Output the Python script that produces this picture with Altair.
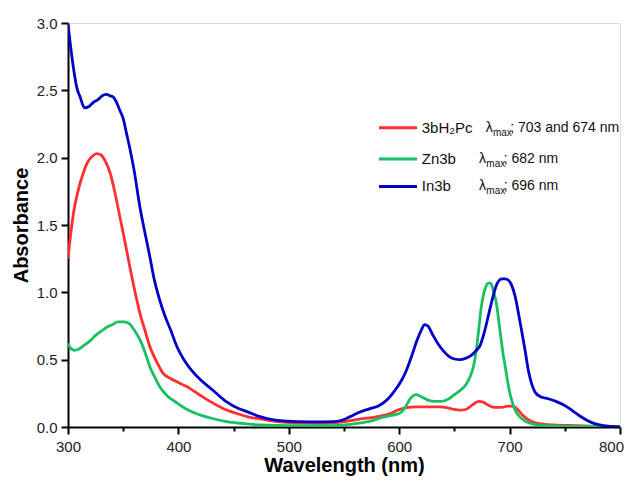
import altair as alt
import pandas as pd

series_names = ["3bH2Pc", "Zn3b", "In3b"]
series_colors = ["#FF3030", "#18C060", "#0000C8"]

red_nm = [300,302,305,309,314,318,322,326,330,334,338,342,347,351,356,360,365,370,374,380,386,393,400,407.5,418,428.6,440,452.8,463,474,490,510,530,545,555,565,575,583,592,600,608,615,625,637,645,650,655,660,664,668,672,676,680,684,688,693,698,702,705,708,711,715,720,727,740,760,780,800]
red_abs = [1.25,1.40,1.59,1.75,1.89,1.97,2.01,2.03,2.02,1.97,1.89,1.76,1.56,1.40,1.19,1.03,0.85,0.71,0.60,0.49,0.40,0.36,0.33,0.30,0.245,0.19,0.14,0.10,0.075,0.06,0.04,0.03,0.028,0.035,0.045,0.06,0.07,0.08,0.10,0.13,0.145,0.15,0.15,0.15,0.14,0.13,0.125,0.13,0.15,0.175,0.19,0.185,0.165,0.15,0.145,0.145,0.155,0.155,0.145,0.125,0.095,0.066,0.04,0.025,0.015,0.01,0.005,0.0]

green_nm = [300,303,306,310,315,320,325,330,335,340,345,350,355,360,365,370,374,378,383,390,398.5,408,419.6,430,443.7,460,474,500,540,565,575,583,592,600,605,610,615,620,626,632,638,645,650,655,660,664,667,670,672,674,676,678,680,682,684,686,688,690,692,694,696,698,700,703,706,709,714,718,725,735,760,800]
green_abs = [0.62,0.58,0.57,0.58,0.61,0.64,0.68,0.71,0.74,0.76,0.78,0.78,0.77,0.72,0.65,0.55,0.45,0.38,0.30,0.23,0.18,0.13,0.09,0.065,0.04,0.025,0.015,0.01,0.01,0.03,0.045,0.067,0.085,0.10,0.14,0.21,0.24,0.225,0.20,0.19,0.19,0.21,0.24,0.27,0.31,0.37,0.44,0.58,0.72,0.87,0.97,1.03,1.065,1.07,1.05,0.99,0.92,0.80,0.67,0.55,0.45,0.35,0.26,0.17,0.11,0.077,0.045,0.03,0.015,0.008,0.004,0.0]

blue_nm = [300,302,304,306,308,311,315,319,323,327,331,335,338,341,344,347,350,353,356,360,365,370,374,378,383,388,393,398.5,405,412,420,431,443,455,462,474,485,495,510,525,540,548,555,564,573,582,590,596,601,606,611,616,620,623,626,630,635,640,645,650,655,660,665,670,673,677,682,686,689,693,696,699,702,705,709,714,717,720,723,728,735,742,750,757,764,770,777,785,792,800]
blue_abs = [2.99,2.85,2.72,2.61,2.52,2.45,2.37,2.38,2.41,2.43,2.46,2.47,2.46,2.45,2.41,2.35,2.29,2.18,2.07,1.90,1.64,1.43,1.27,1.10,0.945,0.82,0.72,0.60,0.50,0.42,0.35,0.275,0.19,0.135,0.114,0.077,0.055,0.045,0.04,0.038,0.04,0.05,0.075,0.11,0.135,0.16,0.21,0.27,0.33,0.41,0.52,0.64,0.72,0.76,0.75,0.69,0.62,0.565,0.525,0.505,0.50,0.51,0.53,0.57,0.60,0.70,0.87,1.00,1.07,1.10,1.10,1.09,1.05,0.97,0.80,0.57,0.42,0.32,0.26,0.225,0.21,0.19,0.16,0.12,0.08,0.05,0.025,0.01,0.004,0.0]

legend_names = ["3bH₂Pc", "Zn3b", "In3b"]
legend_rest = ["; 703 and 674 nm", "; 682 nm", "; 696 nm"]

rows = []
for name, xs_, ys_ in [(series_names[0], red_nm, red_abs), (series_names[1], green_nm, green_abs), (series_names[2], blue_nm, blue_abs)]:
    for i, (xv, yv) in enumerate(zip(xs_, ys_)):
        rows.append({"series": name, "nm": xv, "abs": yv, "order": i})
df = pd.DataFrame(rows)

# legend layout (in data coordinates)
leg_y = [2.222, 1.99, 1.786]
leg = pd.DataFrame({
    "series": series_names,
    "label": legend_names,
    "rest": legend_rest,
    "y": leg_y,
    "x1": [581.7] * 3,
    "x2": [616.1] * 3,
    "xn": [620.4] * 3,
    "xl": [678.3, 672.3, 672.3],
    "xm": [684.9, 678.9, 678.9],
    "xr": [700.6, 694.6, 694.6],
})

color_scale = alt.Scale(domain=series_names, range=series_colors)
font = "Liberation Sans"

xaxis = alt.Axis(
    values=list(range(300, 801, 50)),
    labelExpr="datum.value % 100 === 0 ? datum.label : ''",
    format="d",
    title="Wavelength (nm)",
    titleFont=font, titleFontSize=20, titleFontWeight="bold", titleColor="#000",
    titlePadding=1,
    labelFont=font, labelFontSize=15, labelColor="#222", labelPadding=5,
    labelOverlap=False, labelFlush=False,
    labelOffset={"condition": {"test": "datum.value === 800", "value": -9}, "value": 0},
    tickSize={"condition": {"test": "datum.value % 100 === 0", "value": 7}, "value": 4},
    tickColor="#000", tickWidth=2, domainColor="#000", domainWidth=2, grid=False,
)
yaxis = alt.Axis(
    values=[i * 0.25 for i in range(13)],
    labelExpr="(datum.value * 2) % 1 === 0 ? format(datum.value, '.1f') : ''",
    title="Absorbance",
    titleFont=font, titleFontSize=20, titleFontWeight="bold", titleColor="#000",
    titlePadding=5,
    labelFont=font, labelFontSize=15, labelColor="#222", labelPadding=4,
    labelOverlap=False, labelFlush=False,
    tickSize={"condition": {"test": "(datum.value * 2) % 1 === 0", "value": 7}, "value": 4},
    tickColor="#000", tickWidth=2, domainColor="#000", domainWidth=2, grid=False,
)

xs = alt.Scale(domain=[300, 800], nice=False, zero=False)
ys = alt.Scale(domain=[0, 3.0], nice=False)

lines = alt.Chart(df).mark_line(strokeWidth=2.8, interpolate="monotone", clip=True).encode(
    x=alt.X("nm:Q", scale=xs, axis=xaxis),
    y=alt.Y("abs:Q", scale=ys, axis=yaxis),
    color=alt.Color("series:N", scale=color_scale, legend=None),
    detail="series:N",
    order="order:Q",
)

base = alt.Chart(leg)
leg_lines = base.mark_rule(strokeWidth=3).encode(
    x=alt.X("x1:Q", scale=xs), x2="x2:Q", y=alt.Y("y:Q", scale=ys),
    color=alt.Color("series:N", scale=color_scale, legend=None),
)
leg_names = base.mark_text(align="left", baseline="middle", font=font, fontSize=15, color="#111").encode(
    x=alt.X("xn:Q", scale=xs), y=alt.Y("y:Q", scale=ys), text="label:N",
)
leg_lam = base.mark_text(align="left", baseline="middle", font=font, fontSize=14, color="#111").encode(
    x=alt.X("xl:Q", scale=xs), y=alt.Y("y:Q", scale=ys), text=alt.value("λ"),
)
leg_max = base.mark_text(align="left", baseline="middle", font=font, fontSize=10, color="#111", dy=5).encode(
    x=alt.X("xm:Q", scale=xs), y=alt.Y("y:Q", scale=ys), text=alt.value("max"),
)
leg_rest = base.mark_text(align="left", baseline="middle", font=font, fontSize=14, color="#111").encode(
    x=alt.X("xr:Q", scale=xs), y=alt.Y("y:Q", scale=ys), text="rest:N",
)

chart = alt.layer(lines, leg_lines, leg_names, leg_lam, leg_max, leg_rest).properties(
    width=552, height=404,
    autosize=alt.AutoSizeParams(type="none"),
    padding={"left": 60, "top": 15, "right": 5, "bottom": 51},
).configure_view(stroke=None).configure(background="white")

chart.save("out.html", embed_options={"renderer": "svg", "actions": False})
